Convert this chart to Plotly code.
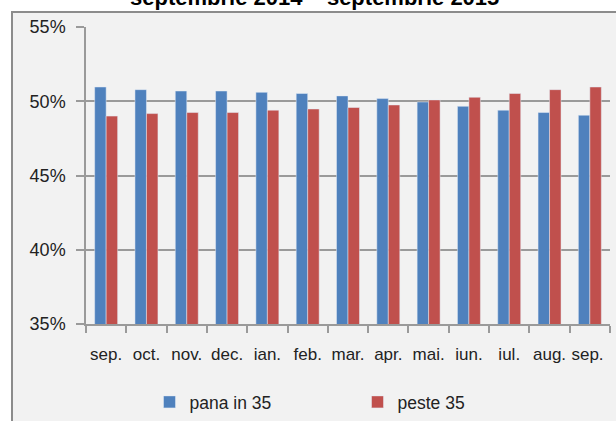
import plotly.graph_objects as go

months = ["sep.", "oct.", "nov.", "dec.", "ian.", "feb.", "mar.", "apr.", "mai.", "iun.", "iul.", "aug.", "sep. "]
pana_in_35 = [0.5096, 0.5078, 0.5069, 0.5069, 0.5060, 0.5052, 0.5036, 0.5018, 0.4995, 0.4966, 0.4940, 0.4924, 0.4906]
peste_35 = [0.4900, 0.4917, 0.4924, 0.4924, 0.4940, 0.4948, 0.4958, 0.4975, 0.5009, 0.5027, 0.5052, 0.5078, 0.5096]
title_text = "septembrie 2014 – septembrie 2015"

FONT = "Liberation Sans, Arial, sans-serif"
W, H = 616, 421
L, R, T, B = 86, 6, 27, 97
pw, ph = W - L - R, H - T - B

def px_x(p):
    return (p - L) / pw

def px_y(p):
    return (H - B - p) / ph

fig = go.Figure()
fig.add_trace(go.Bar(x=months, y=pana_in_35, name="pana in 35", marker_color="#4f81bd"))
fig.add_trace(go.Bar(x=months, y=peste_35, name="peste 35", marker_color="#c0504d"))

fig.update_layout(
    width=W, height=H,
    margin=dict(l=L, r=R, t=T, b=B, autoexpand=False),
    paper_bgcolor="white",
    plot_bgcolor="#f2f2f2",
    barmode="group", bargap=0.43, bargroupgap=0,
    font=dict(family=FONT, size=18, color="#222"),
    showlegend=True,
    legend=dict(orientation="h", x=px_x(149.5), xanchor="left", y=px_y(402), yanchor="middle",
                font=dict(size=17.5, color="#222"), entrywidth=163, entrywidthmode="pixels",
                bgcolor="rgba(0,0,0,0)"),
    shapes=[dict(type="rect", xref="paper", yref="paper", layer="below",
                 x0=px_x(12), x1=px_x(640), y0=px_y(12), y1=px_y(450),
                 fillcolor="#f2f2f2", line=dict(color="#8c8c8c", width=2))],
    annotations=[dict(text=title_text, xref="paper", yref="paper", x=px_x(314.5), y=px_y(-2),
                      xanchor="center", yanchor="middle", showarrow=False,
                      font=dict(family=FONT, size=22, color="#000", weight="bold"))],
)
fig.update_yaxes(range=[0.35, 0.55], dtick=0.05, tickformat=".0%", showgrid=True,
                 gridcolor="#9a9a9a", gridwidth=1.5, showline=True, linecolor="#9a9a9a", linewidth=1.5,
                 ticks="outside", ticklen=8, tickcolor="#9a9a9a", tickwidth=1.5,
                 ticklabelstandoff=7, zeroline=False, automargin=False,
                 tickfont=dict(size=18, color="#222"))
fig.update_xaxes(showline=True, linecolor="#9a9a9a", linewidth=1.5, ticks="outside", ticklen=7,
                 tickcolor="#9a9a9a", tickwidth=1.5, tickson="boundaries", showgrid=False,
                 tickangle=0, ticklabelstandoff=14, automargin=False,
                 tickfont=dict(size=17, color="#222"))

fig.write_html("out.html", config={"displayModeBar": False},
               post_script="document.body.style.margin='0';document.body.style.overflow='hidden';")
